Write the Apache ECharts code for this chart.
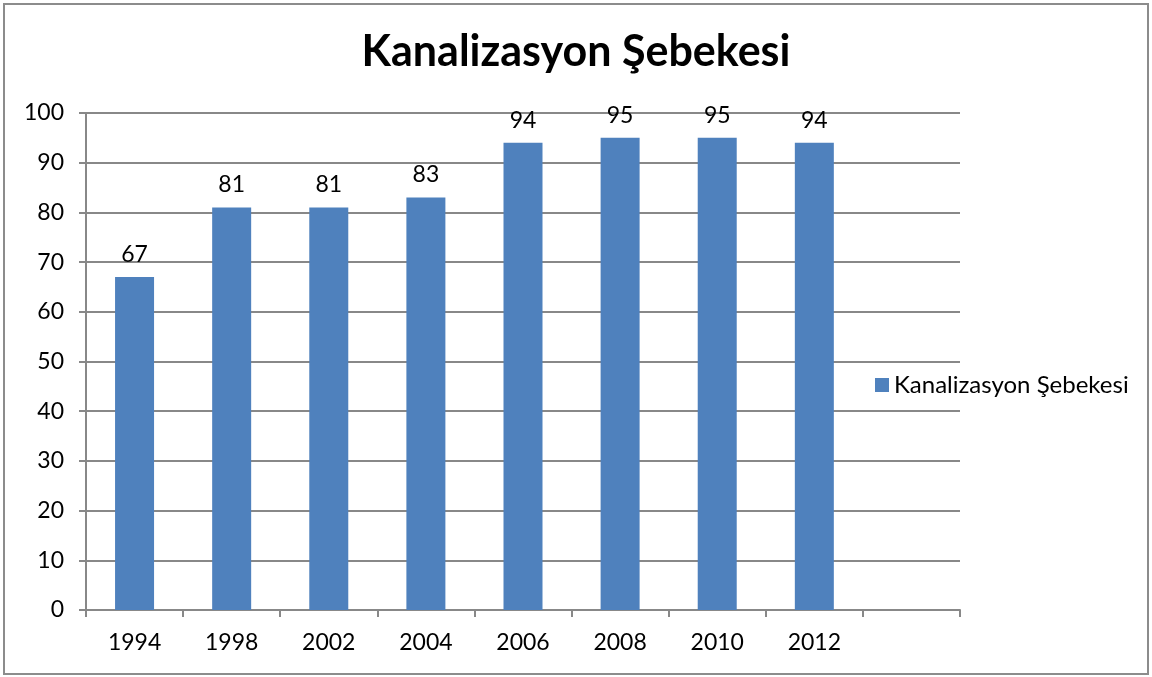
<!DOCTYPE html>
<html>
<head>
<meta charset="utf-8">
<script src="https://cdn.jsdelivr.net/npm/echarts@6/dist/echarts.min.js"></script>
<style>
  html, body { margin: 0; padding: 0; background: #fff; }
  #chart { width: 1152px; height: 677px; }
  #frame { position: absolute; left: 3px; top: 3px; width: 1146px; height: 672px; border: 2px solid #8c8c8c; box-sizing: border-box; pointer-events: none; }
</style>
</head>
<body>
<div id="chart"></div>
<div id="frame"></div>
<script>
const years = ['1994', '1998', '2002', '2004', '2006', '2008', '2010', '2012', ''];
const values = [67, 81, 81, 83, 94, 95, 95, 94, null];
const seriesName = 'Kanalizasyon Şebekesi';
const font = 'Lato, "Noto Sans", sans-serif';

const chart = echarts.init(document.getElementById('chart'));
chart.setOption({
  animation: false,
  title: {
    text: 'Kanalizasyon Şebekesi',
    left: 'center',
    top: 26,
    textStyle: { fontFamily: font, fontSize: 43, fontWeight: 'bold', color: '#000' }
  },
  legend: {
    orient: 'vertical',
    left: 870,
    top: 368,
    itemWidth: 14,
    itemHeight: 14,
    itemGap: 6,
    icon: 'rect',
    textStyle: { fontFamily: font, fontSize: 24, color: '#000' },
    data: [seriesName]
  },
  grid: { left: 86, right: 192, top: 113, bottom: 67, containLabel: false },
  xAxis: {
    type: 'category',
    data: years,
    axisLine: { lineStyle: { color: '#888', width: 2 } },
    axisTick: { show: true, length: 7, lineStyle: { color: '#888', width: 2 } },
    axisLabel: { fontFamily: font, fontSize: 23, color: '#000', margin: 21, interval: 0 }
  },
  yAxis: {
    type: 'value',
    min: 0,
    max: 100,
    interval: 10,
    axisLine: { show: true, lineStyle: { color: '#888', width: 2 } },
    axisTick: { show: true, length: 7, lineStyle: { color: '#888', width: 2 } },
    splitLine: { lineStyle: { color: '#888', width: 2 } },
    axisLabel: { fontFamily: font, fontSize: 23, color: '#000', margin: 22 }
  },
  series: [{
    name: seriesName,
    type: 'bar',
    data: values,
    barWidth: 39,
    itemStyle: { color: '#4f81bd' },
    label: {
      show: true,
      position: 'top',
      distance: 11,
      fontFamily: font,
      fontSize: 23,
      color: '#000'
    }
  }]
});
</script>
</body>
</html>
